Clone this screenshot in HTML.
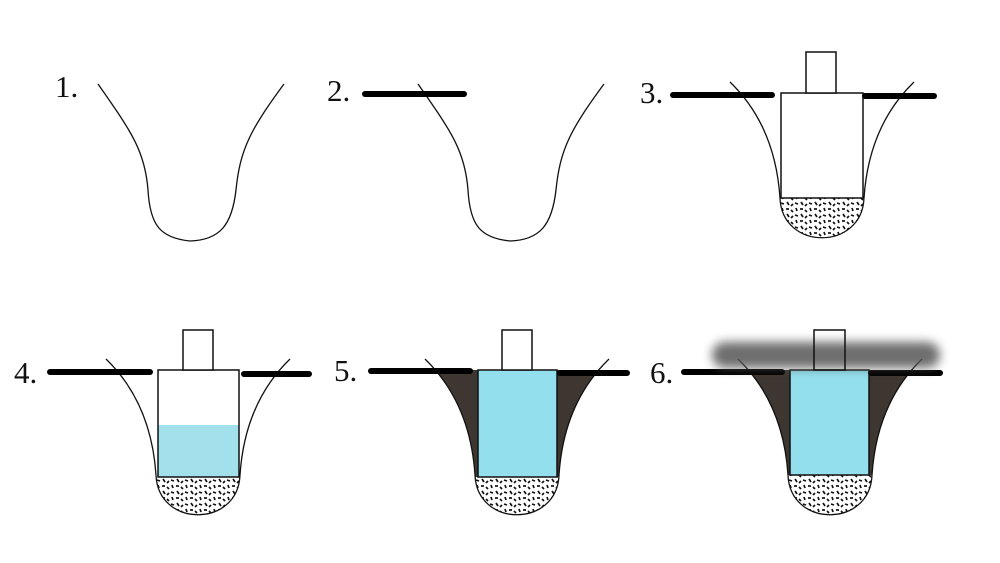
<!DOCTYPE html>
<html><head><meta charset="utf-8"><style>
html,body{margin:0;padding:0;background:#fff;}
svg{display:block;}
text{font-family:"Liberation Serif",serif;font-size:31px;fill:#111;}
</style></head><body>
<svg width="1000" height="563" viewBox="0 0 1000 563" xmlns="http://www.w3.org/2000/svg">
<defs>
<pattern id="grav" width="14" height="12" patternUnits="userSpaceOnUse">
<rect width="14" height="12" fill="#fff"/>
<g stroke="#111" stroke-width="1.7">
<line x1="1" y1="2" x2="4" y2="3"/><line x1="7" y1="1" x2="9" y2="4"/><line x1="11" y1="5" x2="13" y2="3"/>
<line x1="2" y1="7" x2="3" y2="10"/><line x1="6" y1="8" x2="9" y2="8"/><line x1="11" y1="9" x2="13" y2="11"/>
</g></pattern>
<filter id="blur" x="-20%" y="-100%" width="140%" height="300%"><feGaussianBlur stdDeviation="5"/></filter>
<path id="vpath" d="M98,84 C130,130 145,150 148,190 C150,225 160,238 190,241 C220,240 232,225 236,190 C240,150 250,130 284,84"/>
<path id="hole" d="M-92,-11 C-60,20 -45,60 -42,105 C-40,158 40,158 42,105 C45,60 60,20 92,-11"/>
<clipPath id="holeclip"><path d="M-92,-11 C-60,20 -45,60 -42,105 C-40,158 40,158 42,105 C45,60 60,20 92,-11 Z"/></clipPath>
<clipPath id="below"><rect x="-100" y="0" width="200" height="200"/></clipPath>
</defs>

<text x="55" y="97">1.</text>
<use href="#vpath" fill="none" stroke="#111" stroke-width="1.3"/>

<text x="327" y="101">2.</text>
<g transform="translate(320,0)"><use href="#vpath" fill="none" stroke="#111" stroke-width="1.3"/></g>
<line x1="365" y1="94" x2="464" y2="94" stroke="#000" stroke-width="6" stroke-linecap="round"/>

<!-- panel 3 -->
<text x="640" y="103">3.</text>
<g transform="translate(822,93)">
<rect x="-42" y="105" width="84" height="50" fill="url(#grav)" clip-path="url(#holeclip)"/>
<use href="#hole" fill="none" stroke="#111" stroke-width="1.3"/>
<rect x="-41" y="0" width="82" height="105" fill="#fff" stroke="#111" stroke-width="1.5"/>
<rect x="-16" y="-41" width="30" height="41" fill="#fff" stroke="#111" stroke-width="1.5"/>
</g>
<line x1="673" y1="95" x2="772" y2="95" stroke="#000" stroke-width="6" stroke-linecap="round"/>
<line x1="865" y1="96" x2="934" y2="96" stroke="#000" stroke-width="6" stroke-linecap="round"/>

<!-- panel 4 -->
<text x="14" y="383">4.</text>
<g transform="translate(198,370)">
<rect x="-42" y="107" width="84" height="50" fill="url(#grav)" clip-path="url(#holeclip)"/>
<use href="#hole" fill="none" stroke="#111" stroke-width="1.3"/>
<rect x="-40" y="0" width="81" height="107" fill="#fff"/>
<rect x="-40" y="55" width="81" height="52" fill="#a2e0ec"/>
<rect x="-40" y="0" width="81" height="107" fill="none" stroke="#111" stroke-width="1.5"/>
<rect x="-15" y="-40" width="30" height="40" fill="#fff" stroke="#111" stroke-width="1.5"/>
</g>
<line x1="50" y1="372" x2="150" y2="372" stroke="#000" stroke-width="6" stroke-linecap="round"/>
<line x1="244" y1="374" x2="309" y2="374" stroke="#000" stroke-width="6" stroke-linecap="round"/>

<!-- panel 5 -->
<text x="334" y="381">5.</text>
<g transform="translate(517,370)">
<g clip-path="url(#below)"><rect x="-100" y="0" width="200" height="107" fill="#3e3631" clip-path="url(#holeclip)"/></g>
<rect x="-42" y="107" width="84" height="50" fill="url(#grav)" clip-path="url(#holeclip)"/>
<use href="#hole" fill="none" stroke="#111" stroke-width="1.3"/>
<rect x="-39" y="0" width="79" height="107" fill="#94dfee" stroke="#111" stroke-width="1.5"/>
<rect x="-15" y="-40" width="30" height="40" fill="#fff" stroke="#111" stroke-width="1.5"/>
</g>
<line x1="371" y1="371" x2="470" y2="371" stroke="#000" stroke-width="6" stroke-linecap="round"/>
<line x1="560" y1="373" x2="627" y2="373" stroke="#000" stroke-width="6" stroke-linecap="round"/>

<!-- panel 6 -->
<text x="650" y="383">6.</text>
<g transform="translate(830,370)">
<g clip-path="url(#below)"><rect x="-100" y="0" width="200" height="107" fill="#3e3631" clip-path="url(#holeclip)"/></g>
<rect x="-42" y="105" width="84" height="50" fill="url(#grav)" clip-path="url(#holeclip)"/>
<use href="#hole" fill="none" stroke="#111" stroke-width="1.3"/>
<rect x="-40" y="0" width="79" height="105" fill="#94dfee" stroke="#111" stroke-width="1.5"/>
</g>
<line x1="684" y1="372" x2="782" y2="372" stroke="#000" stroke-width="6" stroke-linecap="round"/>
<line x1="871" y1="373" x2="940" y2="373" stroke="#000" stroke-width="6" stroke-linecap="round"/>
<rect x="712" y="342" width="228" height="26" rx="13" fill="#555" opacity="0.85" filter="url(#blur)"/>
<rect x="814" y="330" width="31" height="40" fill="none" stroke="#111" stroke-width="1.5"/>
</svg>
</body></html>
